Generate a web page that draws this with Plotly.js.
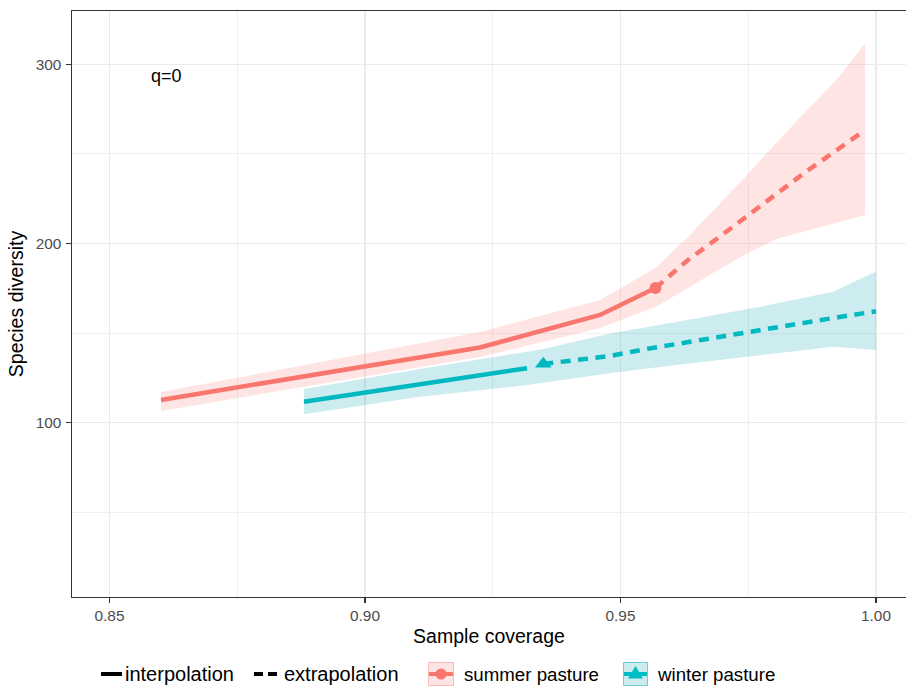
<!DOCTYPE html>
<html><head><meta charset="utf-8">
<script src="https://cdn.plot.ly/plotly-3.0.1.min.js"></script>
<style>html,body{margin:0;padding:0;background:#fff}#chart{width:906px;height:689px}</style>
</head><body><div id="chart"></div>
<script>
// ---- data ----
const summerInterpX  = [0.86008, 0.92250, 0.94599, 0.95685];
const summerInterpY  = [112.7, 142.0, 160.1, 175.2];
const summerInterpLo = [106.5, 136.7, 152.8, 164.6];
const summerInterpHi = [117.1, 150.6, 168.5, 186.3];
const summerExtrapX  = [0.95685, 0.96321, 0.96908, 0.97495, 0.98082, 0.98650, 0.99237, 0.99785];
const summerExtrapY  = [175.2, 190.8, 203.1, 215.9, 228.7, 240.5, 252.2, 263.3];
const summerExtrapLo = [164.6, 175.2, 185.2, 194.7, 202.8, 207.5, 211.7, 215.9];
const summerExtrapHi = [186.3, 203.6, 220.9, 238.8, 257.2, 274.5, 291.5, 311.9];
const summerObsX = [0.95685];
const summerObsY = [175.2];

const winterInterpX  = [0.88806, 0.91076, 0.93170];
const winterInterpY  = [111.7, 121.6, 130.4];
const winterInterpLo = [104.7, 114.5, 121.0];
const winterInterpHi = [118.8, 130.0, 139.6];
const winterExtrapX  = [0.93489, 0.94795, 0.95440, 0.96419, 0.97789, 0.98454, 0.99159, 1.00000];
const winterExtrapY  = [132.8, 137.2, 140.8, 145.6, 152.0, 155.1, 158.4, 162.2];
const winterExtrapLo = [122.5, 127.6, 129.9, 133.2, 137.8, 140.1, 142.4, 140.6];
const winterExtrapHi = [141.1, 149.8, 152.9, 157.9, 165.0, 169.0, 173.1, 184.4];
const winterObsX = [0.93489];
const winterObsY = [132.8];

const xTickVals = [0.85, 0.90, 0.95, 1.00];
const xTickText = ['0.85', '0.90', '0.95', '1.00'];
const xMinorVals = [0.875, 0.925, 0.975];
const yTickVals = [100, 200, 300];
const yTickText = ['100', '200', '300'];
const yMinorVals = [50, 150, 250];
const groupNames = ['summer pasture', 'winter pasture'];
const methodNames = ['interpolation', 'extrapolation'];

// ---- styles ----
const RED = '#F8766D', TEAL = '#00BFC4';
const RED_FILL = 'rgba(248,118,109,0.2)', TEAL_FILL = 'rgba(0,160,175,0.2)';
const LW = 4.5, DASH = '10px,7.5px';

function ribbon(xs, hi, lo, fill) {
  return {
    x: xs.concat(xs.slice().reverse()),
    y: hi.concat(lo.slice().reverse()),
    type: 'scatter', mode: 'lines', fill: 'toself', fillcolor: fill,
    line: {width: 0, color: 'rgba(0,0,0,0)'}, hoverinfo: 'skip', showlegend: false
  };
}

const sumRibX = summerInterpX.concat(summerExtrapX.slice(1));
const sumRibHi = summerInterpHi.concat(summerExtrapHi.slice(1));
const sumRibLo = summerInterpLo.concat(summerExtrapLo.slice(1));
const winRibX = winterInterpX.concat(winterExtrapX);
const winRibHi = winterInterpHi.concat(winterExtrapHi);
const winRibLo = winterInterpLo.concat(winterExtrapLo);

const traces = [
  {x: summerObsX, y: summerObsY, type: 'scatter', mode: 'markers', marker: {symbol: 'circle', size: 12, color: RED}, showlegend: false},
  {x: winterObsX, y: winterObsY, type: 'scatter', mode: 'markers', marker: {symbol: 'triangle-up', size: 14.5, color: TEAL}, showlegend: false},
  {x: summerInterpX, y: summerInterpY, type: 'scatter', mode: 'lines', line: {color: RED, width: LW}, showlegend: false},
  {x: summerExtrapX, y: summerExtrapY, type: 'scatter', mode: 'lines', line: {color: RED, width: LW, dash: DASH}, showlegend: false},
  {x: winterInterpX, y: winterInterpY, type: 'scatter', mode: 'lines', line: {color: TEAL, width: LW}, showlegend: false},
  {x: winterExtrapX, y: winterExtrapY, type: 'scatter', mode: 'lines', line: {color: TEAL, width: LW, dash: DASH}, showlegend: false},
  ribbon(sumRibX, sumRibHi, sumRibLo, RED_FILL),
  ribbon(winRibX, winRibHi, winRibLo, TEAL_FILL)
];

// ---- manual legend (pixel -> paper helpers) ----
const ML = 72, MT = 11, PW = 834, PH = 586;
const px = v => (v - ML) / PW;
const py = v => (MT + PH - v) / PH;
const LY = 674;
const shapes = [
  {type: 'line', xref: 'paper', yref: 'paper', x0: px(101), x1: px(122), y0: py(LY), y1: py(LY), line: {color: '#000', width: 4}},
  {type: 'line', xref: 'paper', yref: 'paper', x0: px(254), x1: px(263), y0: py(LY), y1: py(LY), line: {color: '#000', width: 4}},
  {type: 'line', xref: 'paper', yref: 'paper', x0: px(268), x1: px(277), y0: py(LY), y1: py(LY), line: {color: '#000', width: 4}},
  {type: 'rect', xref: 'paper', yref: 'paper', x0: px(428.5), x1: px(453.5), y0: py(662.5), y1: py(685.5), fillcolor: RED_FILL, line: {color: 'rgba(248,118,109,0.45)', width: 1}},
  {type: 'line', xref: 'paper', yref: 'paper', x0: px(429), x1: px(453), y0: py(LY), y1: py(LY), line: {color: RED, width: 4}},
  {type: 'circle', xref: 'paper', yref: 'paper', x0: px(435.5), x1: px(446.5), y0: py(668.5), y1: py(679.5), fillcolor: RED, line: {width: 0}},
  {type: 'rect', xref: 'paper', yref: 'paper', x0: px(623.5), x1: px(647.5), y0: py(662.5), y1: py(685.5), fillcolor: TEAL_FILL, line: {color: 'rgba(0,160,175,0.5)', width: 1}},
  {type: 'line', xref: 'paper', yref: 'paper', x0: px(624), x1: px(647), y0: py(LY), y1: py(LY), line: {color: TEAL, width: 4}},
  {type: 'path', xref: 'paper', yref: 'paper', fillcolor: TEAL, line: {width: 0},
   path: 'M ' + px(635.5) + ' ' + py(666) + ' L ' + px(643) + ' ' + py(678.5) + ' L ' + px(628) + ' ' + py(678.5) + ' Z'}
];
const methodFont = {size: 20, color: '#000'};
const groupFont = {size: 18.7, color: '#000'};
const annotations = [
  {x: 0.8612, y: 293.5, xref: 'x', yref: 'y', text: 'q=0', showarrow: false, font: {size: 18, color: '#000'}},
  {x: px(123), y: py(LY), xref: 'paper', yref: 'paper', xanchor: 'left', yanchor: 'middle', text: methodNames[0], showarrow: false, font: methodFont},
  {x: px(281.5), y: py(LY), xref: 'paper', yref: 'paper', xanchor: 'left', yanchor: 'middle', text: methodNames[1], showarrow: false, font: methodFont},
  {x: px(461.5), y: py(LY), xref: 'paper', yref: 'paper', xanchor: 'left', yanchor: 'middle', text: groupNames[0], showarrow: false, font: groupFont},
  {x: px(655), y: py(LY), xref: 'paper', yref: 'paper', xanchor: 'left', yanchor: 'middle', text: groupNames[1], showarrow: false, font: groupFont}
];

const axisCommon = {
  ticks: 'outside', ticklen: 4.5, tickwidth: 1.1, tickcolor: '#333333',
  tickfont: {size: 15.4, color: '#4D4D4D'},
  showgrid: true, gridcolor: '#EBEBEB', gridwidth: 1.5,
  showline: true, mirror: true, linecolor: '#333333', linewidth: 1.1,
  zeroline: false, automargin: false, fixedrange: true
};

const layout = {
  width: 906, height: 689,
  margin: {l: ML, r: 906 - ML - PW, t: MT, b: 689 - MT - PH},
  paper_bgcolor: '#fff', plot_bgcolor: '#fff',
  showlegend: false,
  font: {family: '"Liberation Sans", Arial, sans-serif', color: '#000'},
  xaxis: Object.assign({}, axisCommon, {
    range: [0.84266, 1.00587], tickmode: 'array', tickvals: xTickVals, ticktext: xTickText,
    minor: {tickmode: 'array', tickvals: xMinorVals, showgrid: true, gridcolor: '#EFEFEF', gridwidth: 1, ticks: ''},
    title: {text: 'Sample coverage', font: {size: 19.5, color: '#000'}, standoff: 6}
  }),
  yaxis: Object.assign({}, axisCommon, {
    range: [2.73, 329.74], tickmode: 'array', tickvals: yTickVals, ticktext: yTickText,
    ticklabelstandoff: 2,
    minor: {tickmode: 'array', tickvals: yMinorVals, showgrid: true, gridcolor: '#EFEFEF', gridwidth: 1, ticks: ''},
    title: {text: 'Species diversity', font: {size: 19.5, color: '#000'}, standoff: 6}
  }),
  shapes: shapes,
  annotations: annotations
};

Plotly.newPlot('chart', traces, layout, {displayModeBar: false, staticPlot: true});
</script>
</body></html>
